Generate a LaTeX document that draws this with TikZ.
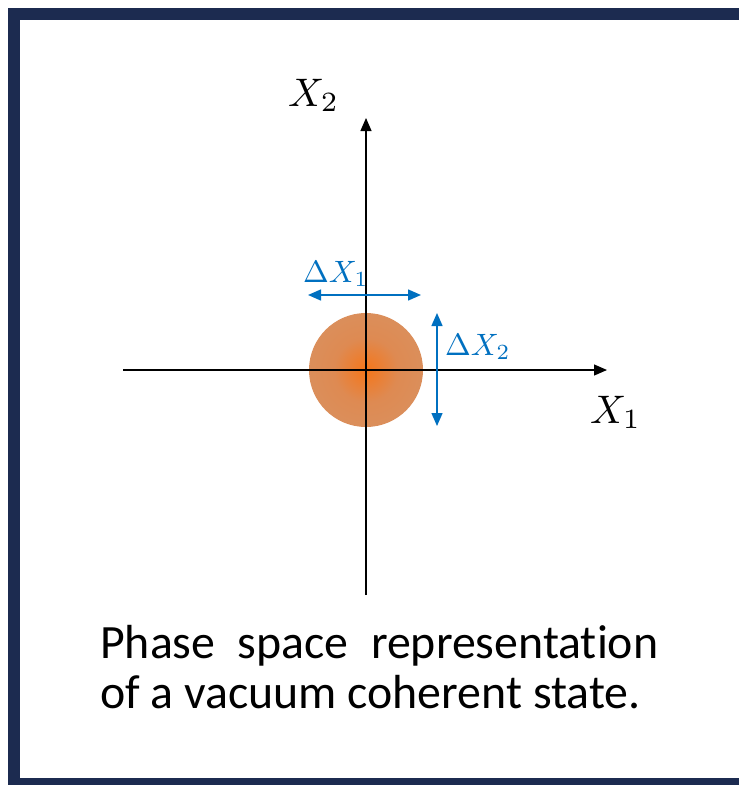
\documentclass[tikz,border=0pt]{standalone}
\usepackage{graphicx}
\usepackage{fontspec}
\setmainfont[Ligatures=NoCommon]{Carlito}
\usetikzlibrary{arrows.meta}
\definecolor{navy}{HTML}{1C2B50}
\definecolor{spreadblue}{HTML}{0070C0}
\definecolor{glowin}{HTML}{F5761A}
\definecolor{glowmid}{HTML}{DE8A52}
\definecolor{glowout}{HTML}{D4996F}
\pgfdeclareradialshading{vacuumglow}{\pgfpoint{0bp}{0bp}}{%
  color(0bp)=(glowin); color(14bp)=(glowmid); color(50bp)=(glowout)}
\newcommand{\bigmath}[2]{\scalebox{#1}{$#2$}}

\begin{document}
\begin{tikzpicture}[
  x=1bp,y=-1bp,
  axis/.style={-{Triangle[length=13bp,width=11bp]}, draw=black,
    line width=1.2bp},
  spread/.style={{Triangle[length=13bp,width=11bp]}-{Triangle[length=13bp,width=11bp]},
    draw=spreadblue, line width=1.4bp},
  axislabel/.style={inner sep=0pt, font=\normalsize},
  spreadlabel/.style={inner sep=0pt, text=spreadblue, font=\normalsize}
]

% Page with the navy frame, cut off on the right.
\clip (0,0) rectangle (739,785);
\fill[white] (0,0) rectangle (739,785);
\draw[navy, line width=12bp] (14,14) rectangle (760,784);

% Vacuum state blob, centred on the origin.
\node[circle, minimum size=114bp, inner sep=0pt, shading=vacuumglow]
  (state) at (366,370) {};

% Quadrature axes.
\coordinate (x1from) at (123,370);
\coordinate (x1to) at (607,370);
\coordinate (x2from) at (366,595);
\coordinate (x2to) at (366,118);
\draw[axis] (x1from) -- (x1to);
\draw[axis] (x2from) -- (x2to);

\node[axislabel, anchor=base west] (x2label) at (288,106) {\bigmath{4}{X_2}};
\node[axislabel, anchor=base west] (x1label) at (590,423) {\bigmath{4}{X_1}};

% Uncertainty widths.
\coordinate (d1from) at (308,295);
\coordinate (d1to) at (421,295);
\coordinate (d2from) at (437,313);
\coordinate (d2to) at (437,426);
\draw[spread] (d1from) -- (d1to);
\draw[spread] (d2from) -- (d2to);

\node[spreadlabel, anchor=base west] (d1label) at (303,282)
  {\bigmath{3.1}{\Delta X_1}};
\node[spreadlabel, anchor=base west] (d2label) at (445,355)
  {\bigmath{3.1}{\Delta X_2}};

% Caption.
\node[anchor=base west, inner sep=0pt, text width=558bp, align=justify,
  font=\fontsize{48}{51}\selectfont] (caption) at (100,658)
  {Phase space representation\linebreak of a vacuum coherent state.};

\end{tikzpicture}
\end{document}
